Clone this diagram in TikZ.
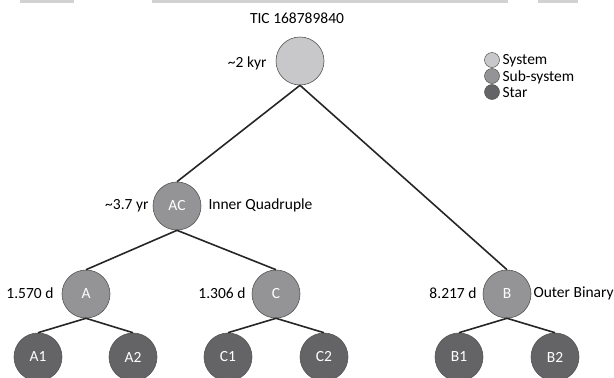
\documentclass[tikz,border=0pt]{standalone}
\usepackage{fontspec}
\setmainfont{Carlito}
\definecolor{sysgray}{RGB}{200,200,202}
\definecolor{subgray}{RGB}{148,148,150}
\definecolor{stargray}{RGB}{100,100,102}
\definecolor{rimgray}{RGB}{85,85,85}

\begin{document}
\begin{tikzpicture}[x=1pt, y=-1pt, font=\fontsize{15.5}{18}\selectfont,
    sysnode/.style={draw=rimgray, line width=0.6pt, circle, fill=sysgray, minimum size=48pt, inner sep=0pt},
    subnode/.style={draw=rimgray, line width=0.6pt, circle, fill=subgray, minimum size=48pt, inner sep=0pt, text=white},
    starnode/.style={draw=rimgray, line width=0.6pt, circle, fill=stargray, minimum size=48pt, inner sep=0pt, text=white},
    keydot/.style={draw=rimgray, line width=0.5pt, circle, minimum size=15pt, inner sep=0pt},
    link/.style={line width=1.6pt, black!85}]
            \useasboundingbox (0,0) rectangle (614,378);
            \fill[gray!35] (20,0) rectangle (74,3);
            \fill[gray!35] (152,0) rectangle (508,3);
            \fill[gray!35] (538,0) rectangle (578,3);

            \node[sysnode] (TIC) at (300,61) {};
            \node[subnode] (AC) at (177,206) {AC};
            \node[subnode] (A) at (86,294) {A};
            \node[subnode] (C) at (276,294) {C};
            \node[subnode] (B) at (507,294) {B};
            \node[starnode] (A1) at (38,357) {A1};
            \node[starnode] (A2) at (133,357) {A2};
            \node[starnode] (C1) at (228,357) {C1};
            \node[starnode] (C2) at (324,357) {C2};
            \node[starnode] (B1) at (459,357) {B1};
            \node[starnode] (B2) at (555,357) {B2};

            \node (TIClabel) at (297,18) {TIC 168789840};
            \node[anchor=east] (TICper) at (270,63) {\textasciitilde2 kyr};
            \node[anchor=east] (ACper) at (152,206) {\textasciitilde3.7 yr};
            \node[anchor=west] (ACname) at (205,205) {Inner Quadruple};
            \node[anchor=east] (Aper) at (57,293) {1.570 d};
            \node[anchor=east] (Cper) at (249,293) {1.306 d};
            \node[anchor=east] (Bper) at (480,293) {8.217 d};
            \node[anchor=west] (Bname) at (530,293) {Outer Binary};

            \node[keydot, fill=sysgray] (Ksys) at (492,60) {};
            \node[keydot, fill=subgray] (Ksub) at (492,76) {};
            \node[keydot, fill=stargray] (Kstar) at (492,92) {};
            \node[anchor=west] (Lsys) at (499,61) {System};
            \node[anchor=west] (Lsub) at (499,77) {Sub-system};
            \node[anchor=west] (Lstar) at (499,93) {Star};

            \draw[link] (TIC.south) -- (AC.north);
            \draw[link] (TIC.south) -- (B.north);
            \draw[link] (AC.south) -- (A.north);
            \draw[link] (AC.south) -- (C.north);
            \draw[link] (A.south) -- (A1.north);
            \draw[link] (A.south) -- (A2.north);
            \draw[link] (C.south) -- (C1.north);
            \draw[link] (C.south) -- (C2.north);
            \draw[link] (B.south) -- (B1.north);
            \draw[link] (B.south) -- (B2.north);
        \end{tikzpicture}
\end{document}
